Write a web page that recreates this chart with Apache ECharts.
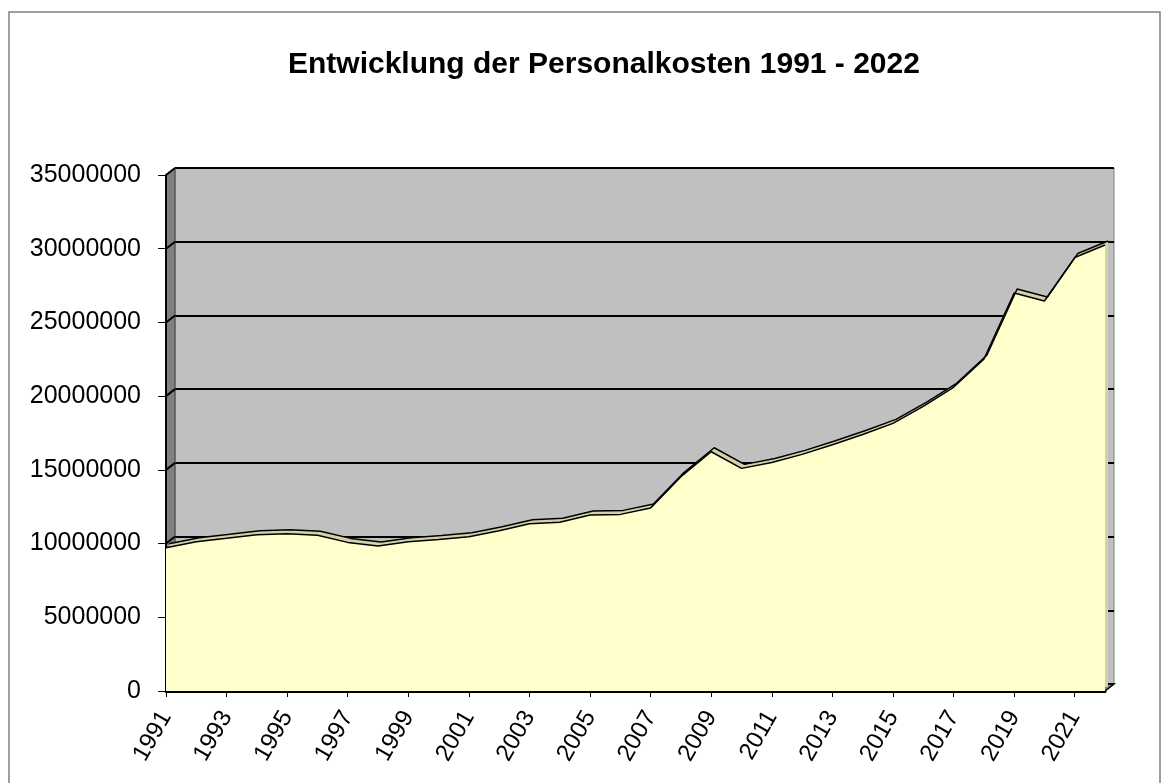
<!DOCTYPE html>
<html>
<head>
<meta charset="utf-8">
<script src="https://cdn.jsdelivr.net/npm/echarts@6/dist/echarts.min.js"></script>
<style>
  html, body { margin: 0; padding: 0; background: #fff; }
  #chart { width: 1169px; height: 783px; }
</style>
</head>
<body>
<div id="chart"></div>
<script>
// Jahre
const years = [];
for (let y = 1991; y <= 2022; y++) years.push(String(y));

// Personalkosten
const kosten = [
  9720000, 10130000, 10360000, 10600000, 10670000, 10560000, 10080000, 9830000,
  10130000, 10270000, 10470000, 10870000, 11350000, 11440000, 11940000, 11980000,
  12420000, 14540000, 16230000, 15100000, 15500000, 16050000, 16700000, 17400000,
  18150000, 19300000, 20600000, 22500000, 27000000, 26450000, 29400000, 30250000
];

// Achse
const yMax = 35000000;
const yStep = 5000000;

const font = 'Liberation Sans, Arial, sans-serif';

// Front-Ebene und Rückwand (3D-Versatz)
const front = { left: 166, right: 64, top: 175, bottom: 92 };
const depthX = 9, depthY = 7;
const ribX = 3, ribY = 4;

const chart = echarts.init(document.getElementById('chart'));

const hiddenX = (gi) => ({
  type: 'category', gridIndex: gi, data: years, boundaryGap: false, show: false
});
const hiddenY = (gi) => ({
  type: 'value', gridIndex: gi, min: 0, max: yMax, interval: yStep, show: false, splitLine: { show: false }
});

chart.setOption({
  animation: false,
  backgroundColor: '#fff',
  title: {
    text: 'Entwicklung der Personalkosten 1991 - 2022',
    left: 283,
    top: 45,
    textStyle: { fontFamily: font, fontSize: 30, fontWeight: 'bold', color: '#000' }
  },
  grid: [
    // Rückwand
    {
      left: front.left + depthX, right: front.right - depthX,
      top: front.top - depthY, bottom: front.bottom + depthY,
      show: true, backgroundColor: '#C0C0C0', borderColor: '#808080', borderWidth: 1
    },
    // Oberseite der Fläche
    {
      left: front.left + ribX, right: front.right - ribX,
      top: front.top - ribY, bottom: front.bottom + ribY
    },
    // Vorderseite
    { left: front.left, right: front.right, top: front.top, bottom: front.bottom }
  ],
  xAxis: [
    hiddenX(0),
    hiddenX(1),
    {
      type: 'category', gridIndex: 2, data: years, boundaryGap: false,
      axisLine: { lineStyle: { color: '#000', width: 3 } },
      axisTick: { show: true, interval: 1, length: 6, lineStyle: { color: '#000' } },
      axisLabel: {
        interval: 1, rotate: 60, margin: 22,
        fontFamily: font, fontSize: 24, color: '#000'
      }
    }
  ],
  yAxis: [
    {
      type: 'value', gridIndex: 0, min: 0, max: yMax, interval: yStep,
      axisLine: { show: false }, axisTick: { show: false }, axisLabel: { show: false },
      splitLine: { show: true, lineStyle: { color: '#000', width: 2 } }
    },
    hiddenY(1),
    {
      type: 'value', gridIndex: 2, min: 0, max: yMax, interval: yStep,
      axisLine: { show: true, lineStyle: { color: '#000', width: 2 } },
      axisTick: { show: true, length: 8, lineStyle: { color: '#000' } },
      axisLabel: {
        margin: 25, fontFamily: font, fontSize: 25, color: '#000',
        formatter: v => String(v)
      },
      splitLine: { show: false }
    }
  ],
  series: [
    {
      type: 'line', xAxisIndex: 1, yAxisIndex: 1, data: kosten,
      symbol: 'none', silent: true,
      lineStyle: { color: '#000', width: 1.5 },
      areaStyle: { color: '#D2D2A6', opacity: 1 }
    },
    {
      type: 'line', xAxisIndex: 2, yAxisIndex: 2, data: kosten,
      symbol: 'none', silent: true,
      lineStyle: { color: '#000', width: 1.5 },
      areaStyle: { color: '#FFFFCC', opacity: 1 }
    }
  ]
});

// Seitenwand, Boden und schräge Gitterlinien
const W = 1169, H = 783;
const fx0 = front.left, fx1 = W - front.right;
const fy0 = front.top, fy1 = H - front.bottom;
const els = [
  {
    type: 'polygon', z: 0, silent: true,
    shape: { points: [[fx0, fy0], [fx0 + depthX, fy0 - depthY], [fx0 + depthX, fy1 - depthY], [fx0, fy1]] },
    style: { fill: '#808080', stroke: '#404040', lineWidth: 1 }
  },
  {
    type: 'polygon', z: 0, silent: true,
    shape: { points: [[fx0, fy1], [fx1, fy1], [fx1 + depthX, fy1 - depthY], [fx0 + depthX, fy1 - depthY]] },
    style: { fill: '#808080', stroke: '#000', lineWidth: 1.5 }
  },
  {
    type: 'rect', z: 0, silent: true,
    shape: { x: 9, y: 12, width: 1151, height: 790 },
    style: { fill: null, stroke: '#808080', lineWidth: 1.5 }
  }
];
for (let v = 0; v <= yMax; v += yStep) {
  const py = chart.convertToPixel({ yAxisIndex: 2 }, v);
  els.push({
    type: 'line', z: 1, silent: true,
    shape: { x1: fx0, y1: py, x2: fx0 + depthX, y2: py - depthY },
    style: { stroke: '#000', lineWidth: 2 }
  });
}
chart.setOption({ graphic: { elements: els } });
</script>
</body>
</html>
